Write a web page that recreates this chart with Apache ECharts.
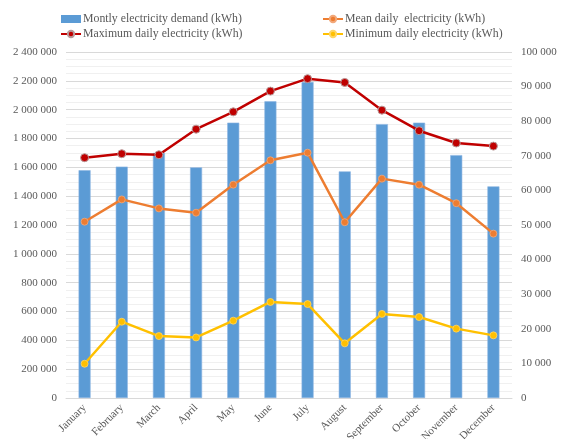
<!DOCTYPE html>
<html>
<head>
<meta charset="utf-8">
<script src="https://cdn.jsdelivr.net/npm/echarts@6/dist/echarts.min.js"></script>
<style>
  html, body { margin: 0; padding: 0; background: #ffffff; }
  #chart { width: 568px; height: 439px; }
</style>
</head>
<body>
<div id="chart"></div>
<script>
// Monthly and daily electricity figures (kWh)
const months = ['January', 'February', 'March', 'April', 'May', 'June', 'July',
  'August', 'September', 'October', 'November', 'December'];
const monthlyDemand = [1580000, 1605000, 1700000, 1600000, 1910000, 2058000, 2192000,
  1572000, 1900000, 1910000, 1685000, 1468000];
const meanDaily = [50950, 57400, 54800, 53550, 61650, 68700, 70900,
  50800, 63400, 61650, 56300, 47500];
const maxDaily = [69450, 70600, 70300, 77700, 82700, 88700, 92300,
  91200, 83200, 77250, 73700, 72800];
const minDaily = [9900, 22050, 17900, 17500, 22350, 27750, 27150,
  15800, 24300, 23400, 20050, 18100];
const leftTicks = { min: 0, max: 2400000, step: 200000 };
const rightTicks = { min: 0, max: 100000, step: 10000 };

const FONT = '"Liberation Serif", "Times New Roman", serif';
const GREY = '#595959';

// "2 400 000" style thousands grouping
function spaced(v) {
  return String(Math.round(v)).replace(/\B(?=(\d{3})+(?!\d))/g, ' ');
}

const chart = echarts.init(document.getElementById('chart'), null, { renderer: 'canvas' });

const legendText = { fontFamily: FONT, fontSize: 11.8, color: GREY, padding: [0, 0, 0, -3] };

chart.setOption({
  animation: false,
  backgroundColor: '#ffffff',
  textStyle: { fontFamily: FONT },
  legend: [
    {
      orient: 'vertical', left: 55, top: 8, itemGap: 3,
      itemWidth: 20, itemHeight: 8,
      textStyle: legendText,
      data: [
        { name: 'Montly electricity demand (kWh)', icon: 'rect', itemStyle: { borderWidth: 0 } },
        'Maximum daily electricity (kWh)'
      ]
    },
    {
      orient: 'vertical', left: 317, top: 8, itemGap: 3,
      itemWidth: 20, itemHeight: 8,
      textStyle: legendText,
      data: ['Mean daily  electricity (kWh)', 'Minimum daily electricity (kWh)']
    }
  ],
  grid: { left: 66, right: 56, top: 52, bottom: 41, containLabel: false, outerBoundsMode: 'none' },
  xAxis: {
    type: 'category',
    data: months,
    boundaryGap: true,
    axisLine: { show: true, lineStyle: { color: '#D9D9D9', width: 1 } },
    axisTick: { show: false },
    axisLabel: {
      rotate: 45, interval: 0, margin: 8,
      fontFamily: FONT, fontSize: 11, color: GREY
    }
  },
  yAxis: [
    {
      type: 'value',
      min: leftTicks.min, max: leftTicks.max, interval: leftTicks.step,
      axisLine: { show: false },
      axisTick: { show: false },
      axisLabel: { fontFamily: FONT, fontSize: 11, color: GREY, margin: 9, formatter: spaced },
      splitLine: { show: true, lineStyle: { color: '#D9D9D9', width: 1 } },
      minorTick: { show: false, splitNumber: 4 },
      minorSplitLine: { show: true, lineStyle: { color: '#F0F0F0', width: 1 } }
    },
    {
      type: 'value',
      min: rightTicks.min, max: rightTicks.max, interval: rightTicks.step,
      axisLine: { show: false },
      axisTick: { show: false },
      axisLabel: { fontFamily: FONT, fontSize: 11, color: GREY, margin: 9, formatter: spaced },
      splitLine: { show: false }
    }
  ],
  series: [
    {
      name: 'Montly electricity demand (kWh)',
      type: 'bar',
      yAxisIndex: 0,
      data: monthlyDemand,
      barWidth: 12,
      itemStyle: { color: '#5B9BD5', borderColor: '#8DB6E2', borderWidth: 0.6 },
      z: 1
    },
    {
      name: 'Mean daily  electricity (kWh)',
      type: 'line',
      yAxisIndex: 1,
      data: meanDaily,
      symbol: 'circle', symbolSize: 7,
      lineStyle: { color: '#ED7D31', width: 2.5 },
      itemStyle: { color: '#ED7D31', borderColor: '#F2A87A', borderWidth: 0.8 },
      z: 3
    },
    {
      name: 'Maximum daily electricity (kWh)',
      type: 'line',
      yAxisIndex: 1,
      data: maxDaily,
      symbol: 'circle', symbolSize: 8,
      lineStyle: { color: '#C00000', width: 2.5 },
      itemStyle: { color: '#C00000', borderColor: '#B89A9A', borderWidth: 1 },
      z: 3
    },
    {
      name: 'Minimum daily electricity (kWh)',
      type: 'line',
      yAxisIndex: 1,
      data: minDaily,
      symbol: 'circle', symbolSize: 7,
      lineStyle: { color: '#FFC000', width: 2.5 },
      itemStyle: { color: '#FFC000', borderColor: '#FFD666', borderWidth: 0.8 },
      z: 3
    }
  ]
});
</script>
</body>
</html>
